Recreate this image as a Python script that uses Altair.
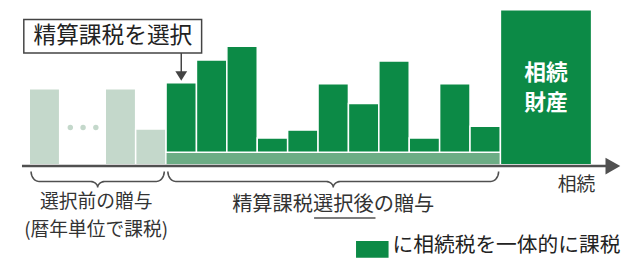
import math
import altair as alt
import pandas as pd

FONT = "Noto Sans CJK JP"
DARK = "#0c8a46"
LIGHT = "#c4d8cb"
STRIP = "#6cad85"
INK = "#333333"
LINE = "#505050"

# ---- data ----
light_slots = [-4.5, -2.0, -1.0]          # gifts before choosing (calendar-year taxation)
light_heights = [49, 49, 23]
dot_slots = [-3.15, -2.73, -2.31]
dot_level = 24

green_slots = list(range(11))              # gifts after choosing settlement taxation
green_tops = [52.8, 67.5, 76.4, 17.2, 22.3, 52.2, 39.5, 66.9, 17.2, 52.2, 24.8]
strip_top = 8

estate_slot = [11, 14]                     # inherited property
estate_top = 100

groups = [("before", -4.5, 0.0), ("after", 0.0, 11.0)]

box_text = "精算課税を選択"
label_before = ["選択前の贈与", "(暦年単位で課税)"]
label_after = "精算課税選択後の贈与"
axis_label = "相続"
estate_label = ["相続", "財産"]
legend_text = "に相続税を一体的に課税"

# ---- scales ----
X = alt.Scale(domain=[-5.2, 15], nice=False, zero=False)
Y = alt.Scale(domain=[-63, 100], nice=False, zero=False)

def xenc(f="x"):
    return alt.X(f"{f}:Q", scale=X, axis=None)

def yenc(f="y"):
    return alt.Y(f"{f}:Q", scale=Y, axis=None)

# light bars
light_df = pd.DataFrame({"x": light_slots, "x2": [s + 1 for s in light_slots],
                         "y": [0] * 3, "y2": light_heights})
light = alt.Chart(light_df).mark_rect(color=LIGHT, stroke="white", strokeWidth=1.5).encode(
    x=xenc(), x2="x2", y=yenc(), y2="y2")

dots_df = pd.DataFrame({"x": dot_slots, "y": [dot_level] * 3})
dots = alt.Chart(dots_df).mark_circle(color=LIGHT, size=30, opacity=1).encode(x=xenc(), y=yenc())

# strip
strip_df = pd.DataFrame({"x": [0], "x2": [11], "y": [0], "y2": [strip_top]})
strip = alt.Chart(strip_df).mark_rect(color=STRIP, stroke="white", strokeWidth=1).encode(
    x=xenc(), x2="x2", y=yenc(), y2="y2")

green_df = pd.DataFrame({"x": green_slots, "x2": [s + 1 for s in green_slots],
                         "y": [strip_top] * 11, "y2": green_tops})
green = alt.Chart(green_df).mark_rect(color=DARK, stroke="white", strokeWidth=1.5).encode(
    x=xenc(), x2="x2", y=yenc(), y2="y2")

estate_df = pd.DataFrame({"x": [estate_slot[0]], "x2": [estate_slot[1]], "y": [0], "y2": [estate_top]})
estate = alt.Chart(estate_df).mark_rect(color=DARK, stroke="white", strokeWidth=1.5).encode(
    x=xenc(), x2="x2", y=yenc(), y2="y2")

estate_txt_df = pd.DataFrame({"x": [12.5, 12.5], "y": [59.2, 39.5], "t": estate_label})
estate_txt = alt.Chart(estate_txt_df).mark_text(font=FONT, fontSize=22, fontWeight="bold",
                                                color="white", baseline="middle").encode(
    x=xenc(), y=yenc(), text="t:N")

# axis arrow
axis_df = pd.DataFrame({"x": [-4.74], "x2": [14.6], "y": [-0.9]})
axis_line = alt.Chart(axis_df).mark_rule(color=LINE, strokeWidth=2.5).encode(
    x=xenc(), x2="x2", y=yenc())
head_df = pd.DataFrame({"x": [14.7], "y": [-0.9]})
axis_head = alt.Chart(head_df).mark_point(shape="M-0.88,-1L0.88,0L-0.88,1Z", size=289,
                                          filled=True, color=LINE, opacity=1).encode(x=xenc(), y=yenc())
axis_txt = alt.Chart(pd.DataFrame({"x": [13.5], "y": [-13.3], "t": [axis_label]})).mark_text(
    font=FONT, fontSize=19, color=INK, baseline="middle").encode(x=xenc(), y=yenc(), text="t:N")

# braces built from group extents
rows = []
y_top, y_h, y_tip, r = -4.4, -10.8, -14.6, 0.26
n = 12
for g, a, b in groups:
    a += 0.06
    b -= 0.06
    m = (a + b) / 2
    pts = []
    for i in range(n + 1):
        t = math.pi / 2 * i / n
        pts.append((a + r * (1 - math.cos(t)), y_top - (y_top - y_h) * math.sin(t)))
    for i in range(n + 1):
        t = math.pi / 2 * i / n
        pts.append((m - r + r * math.sin(t), y_tip + (y_h - y_tip) * math.cos(t)))
    for i in range(n + 1):
        t = math.pi / 2 * (n - i) / n
        pts.append((m + r - r * math.sin(t), y_tip + (y_h - y_tip) * math.cos(t)))
    for i in range(n + 1):
        t = math.pi / 2 * (n - i) / n
        pts.append((b - r * (1 - math.cos(t)), y_top - (y_top - y_h) * math.sin(t)))
    for k, (px, py) in enumerate(pts):
        rows.append({"g": g, "o": k, "x": px, "y": py})
brace_df = pd.DataFrame(rows)
braces = alt.Chart(brace_df).mark_line(color=LINE, strokeWidth=1.6).encode(
    x=xenc(), y=yenc(), detail="g:N", order="o:Q")

# group labels
lab_df = pd.DataFrame({"x": [-2.3, -2.3], "y": [-24.2, -42.2], "t": label_before})
before_txt = alt.Chart(lab_df).mark_text(font=FONT, fontSize=19, color=INK,
                                         baseline="middle").encode(x=xenc(), y=yenc(), text="t:N")
after_txt = alt.Chart(pd.DataFrame({"x": [5.5], "y": [-25.8], "t": [label_after]})).mark_text(
    font=FONT, fontSize=20.5, color=INK, baseline="middle").encode(x=xenc(), y=yenc(), text="t:N")
ul_df = pd.DataFrame({"x": [4.87], "x2": [6.89], "y": [-34.4]})
underline = alt.Chart(ul_df).mark_rule(color=LINE, strokeWidth=1.5).encode(x=xenc(), x2="x2", y=yenc())

# callout box
box_df = pd.DataFrame({"x": [-4.68], "x2": [1.17], "y": [72], "y2": [93.6]})
box = alt.Chart(box_df).mark_rect(fill="white", stroke="#444444", strokeWidth=1.5).encode(
    x=xenc(), x2="x2", y=yenc(), y2="y2")
box_txt = alt.Chart(pd.DataFrame({"x": [-1.75], "y": [82.8], "t": [box_text]})).mark_text(
    font=FONT, fontSize=23, color="#222222", baseline="middle").encode(x=xenc(), y=yenc(), text="t:N")
stem = alt.Chart(pd.DataFrame({"x": [0.5], "y": [72], "y2": [59]})).mark_rule(
    color="#444444", strokeWidth=1.5).encode(x=xenc(), y=yenc(), y2="y2")
tip = alt.Chart(pd.DataFrame({"x": [0.5], "y": [57.2]})).mark_point(
    shape="M-1,-0.8L1,-0.8L0,0.8Z", size=144, filled=True, color="#444444", opacity=1).encode(
    x=xenc(), y=yenc())

# legend
leg_df = pd.DataFrame({"x": [6.25], "x2": [7.32], "y": [-49.3], "y2": [-60.1]})
leg_sq = alt.Chart(leg_df).mark_rect(color=DARK).encode(x=xenc(), x2="x2", y=yenc(), y2="y2")
leg_txt = alt.Chart(pd.DataFrame({"x": [7.45], "y": [-52.5], "t": [legend_text]})).mark_text(
    font=FONT, fontSize=21, color="#222222", baseline="middle", align="left").encode(
    x=xenc(), y=yenc(), text="t:N")

chart = alt.layer(
    light, dots, strip, green, estate, estate_txt, axis_line, axis_head, axis_txt,
    braces, before_txt, after_txt, underline, box, box_txt, stem, tip, leg_sq, leg_txt
).properties(width=622, height=256, padding=0, autosize="none",
             background="white").configure_view(stroke=None)

chart.save("out.html", embed_options={"renderer": "svg", "actions": False})
